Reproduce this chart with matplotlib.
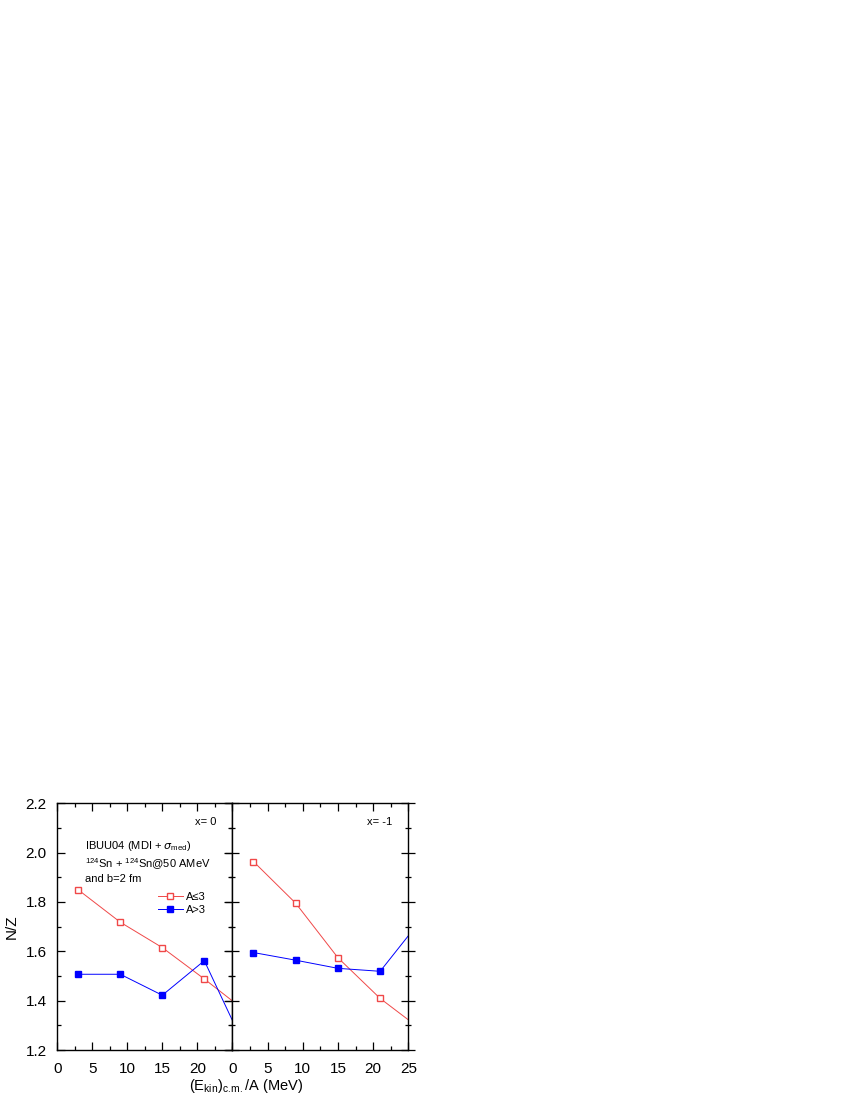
import matplotlib
matplotlib.use("Agg")
import matplotlib.pyplot as plt
from matplotlib.ticker import MultipleLocator

plt.rcParams['font.family'] = ['Liberation Sans', 'DejaVu Sans']

# Data (x = 27 points lie outside the axes and are clipped, as in the reference)
energy = [3, 9, 15, 21, 27]
left_light = [1.849, 1.718, 1.615, 1.488, 1.355]
left_heavy = [1.507, 1.507, 1.422, 1.562, 1.20]
right_light = [1.964, 1.795, 1.574, 1.409, 1.279]
right_heavy = [1.595, 1.564, 1.531, 1.519, 1.735]
xticks = [0, 5, 10, 15, 20]
xticks_right = [0, 5, 10, 15, 20, 25]
yticks = [1.2, 1.4, 1.6, 1.8, 2.0, 2.2]

red = '#f04848'
blue = '#0000ff'

fig = plt.figure(figsize=(8.5, 11), dpi=100)
axL = fig.add_axes([0.0674, 0.04545, 0.2059, 0.2243])
axR = fig.add_axes([0.2733, 0.04545, 0.2071, 0.2243])

for ax, light, heavy in [(axL, left_light, left_heavy), (axR, right_light, right_heavy)]:
    ax.plot(energy, light, '-', color=red, lw=0.7, marker='s', ms=5,
            mfc='white', mec=red, mew=1.0, label='A\u22643')
    ax.plot(energy, heavy, '-', color=blue, lw=0.7, marker='s', ms=5,
            mfc=blue, mec=blue, label='A>3')
    ax.set_xlim(0, 25)
    ax.set_ylim(1.2, 2.2)
    ax.xaxis.set_major_locator(MultipleLocator(5))
    ax.xaxis.set_minor_locator(MultipleLocator(2.5))
    ax.yaxis.set_major_locator(MultipleLocator(0.2))
    ax.yaxis.set_minor_locator(MultipleLocator(0.1))
    ax.tick_params(which='both', direction='in', top=True, right=True, labelsize=11, width=0.9)
    ax.tick_params(which='major', length=6)
    ax.tick_params(which='minor', length=3)
    ax.tick_params(axis='x', which='major', pad=8.5)
    ax.tick_params(axis='y', which='major', pad=7.5)
    for s in ax.spines.values():
        s.set_linewidth(1.0)

axL.set_xticks(xticks)
axL.set_xticklabels([str(v) for v in xticks])
axL.set_yticks(yticks)
axL.set_yticklabels(['%.1f' % v for v in yticks])
axR.set_xticks(xticks_right)
axR.set_xticklabels([str(v) for v in xticks_right])
axR.tick_params(labelleft=False)
axR.tick_params(axis='y', which='both', left=True, direction='inout')
axR.tick_params(axis='y', which='major', length=10)
axR.tick_params(axis='y', which='minor', length=5)

axL.set_ylabel('N/Z', fontsize=11, labelpad=5)
fig.text(0.2894, 0.0125,
         r'(E$_{\mathregular{kin}}$)$_{\mathregular{c.\!m.}}$/A (MeV)',
         ha='center', va='center', fontsize=10.5)

axL.text(0.907, 0.924, 'x= 0', transform=axL.transAxes, ha='right', va='center', fontsize=8)
axR.text(0.907, 0.924, 'x= -1', transform=axR.transAxes, ha='right', va='center', fontsize=8)
axL.text(0.158, 0.827, r'IBUU04 (MDI + $\sigma_{\mathregular{med}}$)', transform=axL.transAxes,
         ha='left', va='center', fontsize=8)
axL.text(0.158, 0.754, r'$^{\mathregular{124}}$Sn + $^{\mathregular{124}}$Sn@50 AMeV', transform=axL.transAxes,
         ha='left', va='center', fontsize=8)
axL.text(0.158, 0.693, 'and b=2 fm', transform=axL.transAxes,
         ha='left', va='center', fontsize=8)

leg = axL.legend(loc='center left', bbox_to_anchor=(0.575, 0.5935), frameon=False, fontsize=8,
                 handlelength=2.25, handletextpad=0.3, labelspacing=0.3, borderpad=0.0,
                 borderaxespad=0.0, markerscale=0.8)

fig.savefig('out.png', dpi=100)
